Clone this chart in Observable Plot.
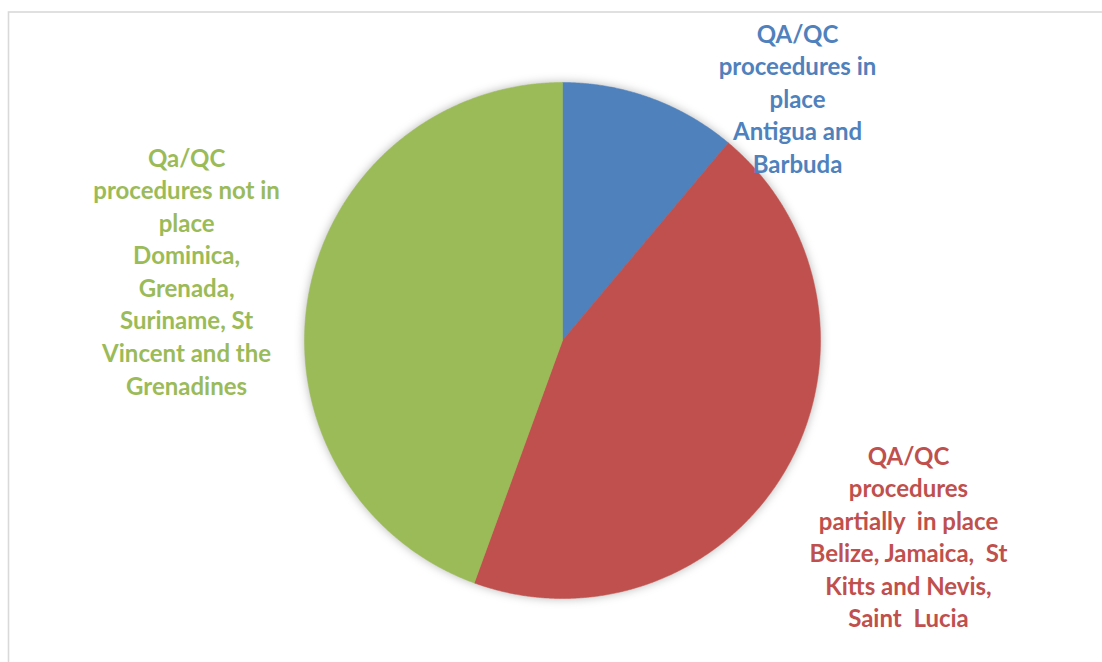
<!DOCTYPE html>
<html>
<head>
<meta charset="utf-8">
<script src="https://cdn.jsdelivr.net/npm/d3@7"></script>
<script src="https://cdn.jsdelivr.net/npm/@observablehq/plot@0.6"></script>
<style>
  html, body { margin: 0; padding: 0; background: #ffffff; }
  #chart { width: 1102px; height: 662px; overflow: hidden; }
</style>
</head>
<body>
<div id="chart"></div>
<script>
// ---- data ----
const categories = ["in place", "partially in place", "not in place"];
const counts = [1, 4, 4];
const labelTexts = [
  "QA/QC\nproceedures in\nplace\nAntigua and\nBarbuda",
  "QA/QC\nprocedures\npartially  in place\nBelize, Jamaica,  St\nKitts and Nevis,\nSaint  Lucia",
  "Qa/QC\nprocedures not in\nplace\nDominica,\nGrenada,\nSuriname, St\nVincent and the\nGrenadines"
];

// ---- layout (not data) ----
const colors = ["#4F81BD", "#C0504D", "#9BBB59"];
const labelPos = [[0.911, 0.943], [1.341, -0.756], [-1.457, 0.272]]; // in pie-radius units

// ---- build slice polygons from the data with d3.pie ----
const arcs = d3.pie().sort(null).value(d => d.count)(
  categories.map((c, i) => ({category: c, count: counts[i]}))
);
const pts = [];
for (const a of arcs) {
  const c = a.data.category;
  pts.push({category: c, x: 0, y: 0});
  const n = Math.max(2, Math.ceil((a.endAngle - a.startAngle) / 0.005));
  for (let k = 0; k <= n; k++) {
    const t = a.startAngle + (a.endAngle - a.startAngle) * k / n;
    pts.push({category: c, x: Math.sin(t), y: Math.cos(t)});
  }
  pts.push({category: c, x: 0, y: 0});
}
const labels = categories.map((c, i) => ({
  category: c, text: labelTexts[i], x: labelPos[i][0], y: labelPos[i][1]
}));

const plot = Plot.plot({
  width: 1102,
  height: 662,
  margin: 0,
  style: {background: "#ffffff", overflow: "hidden"},
  x: {domain: [-1, 1], range: [304, 820], axis: null},
  y: {domain: [-1, 1], range: [598, 82], axis: null},
  color: {domain: categories, range: colors},
  marks: [
    Plot.frame({stroke: "#d9d9d9", strokeWidth: 1.6, insetLeft: 8, insetTop: 11.5, insetRight: -20, insetBottom: -20}),
    Plot.line(pts, {x: "x", y: "y", z: "category", fill: "category", stroke: "category", strokeWidth: 0.5, curve: "linear"}),
    Plot.text(labels, {
      x: "x", y: "y", text: "text", fill: "category",
      fontSize: 24, fontWeight: "bold", fontFamily: "Lato", lineHeight: 1.355,
      textAnchor: "middle"
    })
  ]
});
d3.select(plot).selectAll('g[aria-label="line"]')
  .style("filter", "drop-shadow(0px 0px 5px rgba(0,0,0,0.28))");
document.getElementById("chart").appendChild(plot);
</script>
</body>
</html>
